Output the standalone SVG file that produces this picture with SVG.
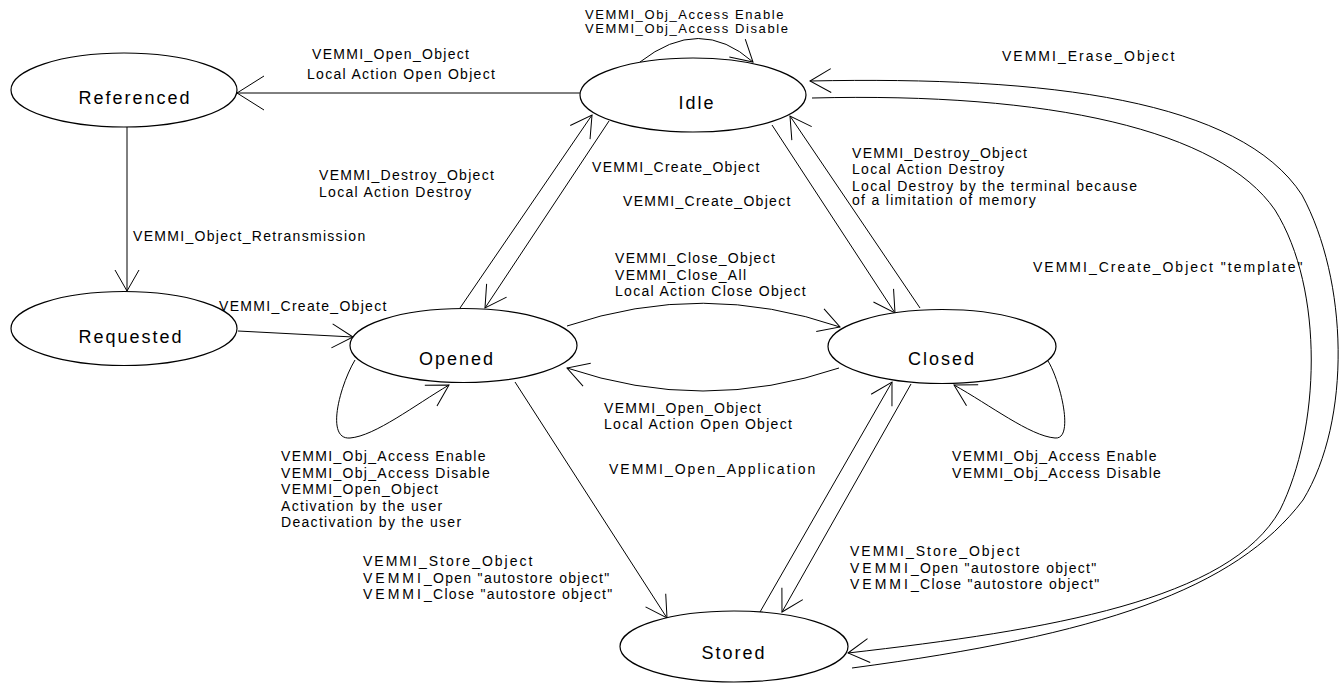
<svg xmlns="http://www.w3.org/2000/svg" width="1339" height="684" viewBox="0 0 1339 684">
<style>
.node ellipse{fill:#fff;stroke:#000;stroke-width:1.2}
.node text{font-family:"Liberation Sans",Arial,sans-serif;font-size:18px;letter-spacing:2px;fill:#000;text-anchor:middle}
.edge{fill:none;stroke:#000;stroke-width:1;marker-end:url(#arr)}
.lbl{font-family:"Liberation Sans",Arial,sans-serif;font-size:14px;letter-spacing:1.3px;fill:#000}
.sm{font-size:13px;letter-spacing:1.6px}
.wide{letter-spacing:2px}
.v{letter-spacing:3px}
</style>
<defs>
<marker id="arr" markerUnits="userSpaceOnUse" markerWidth="40" markerHeight="40" viewBox="-30 -20 40 40" refX="0" refY="0" orient="auto" overflow="visible">
<path d="M-21,-12 L0,0 L-21,12" fill="none" stroke="#000" stroke-width="1"/>
</marker>
<marker id="arrL" markerUnits="userSpaceOnUse" markerWidth="40" markerHeight="40" viewBox="-35 -20 40 40" refX="0" refY="0" orient="auto" overflow="visible">
<path d="M-27,-17 L0,0 L-27,17" fill="none" stroke="#000" stroke-width="1"/>
</marker>
</defs>
<rect width="1339" height="684" fill="#fff"/>
<g id="connectors">
<path class="edge" style="marker-end:url(#arrL)" d="M580,93 L237,93"/>
<path class="edge" d="M127,127 L127,291"/>
<path class="edge" d="M238,331 L353,337"/>
<path class="edge" d="M460,308 L592,115"/>
<path class="edge" d="M609,121 L485,308"/>
<path class="edge" d="M772,125 L895,313"/>
<path class="edge" d="M920,308 L790,116"/>
<path class="edge" d="M567,326 Q703,280 840,327"/>
<path class="edge" d="M839,368 Q703,414 567,368"/>
<path class="edge" d="M355,360 C340,385 325,440 350,438 C375,436 415,405 449,385"/>
<path class="edge" d="M1048,361 C1060,380 1075,440 1055,438 C1030,436 990,405 954,385"/>
<path class="edge" d="M640,62 Q700,15 753,62"/>
<path class="edge" d="M515,382 L667,618"/>
<path class="edge" d="M760,612 L892,382"/>
<path class="edge" d="M911,384 L782,612"/>
<path class="edge" d="M852,668 C1100,635 1235,590 1303,500 C1352,420 1348,280 1302,195 C1240,100 1050,76 810,81"/>
<path class="edge" d="M812,98 C1050,92 1220,130 1275,210 C1325,290 1320,430 1280,510 C1230,600 1050,630 848,653"/>
<g id="edge-labels" class="lbl">
<text class="lbl" x="312" y="59">VEMMI_Open_Object</text>
<text class="lbl" x="307" y="79">Local Action Open Object</text>
<text class="lbl sm" x="585" y="19">VEMMI_Obj_Access Enable</text>
<text class="lbl sm" x="585" y="33">VEMMI_Obj_Access Disable</text>
<text class="lbl wide" x="1002" y="61">VEMMI_Erase_Object</text>
<text class="lbl" x="852" y="158">VEMMI_Destroy_Object</text>
<text class="lbl" x="852" y="174">Local Action Destroy</text>
<text class="lbl" x="852" y="191">Local Destroy by the terminal because</text>
<text class="lbl" x="852" y="205">of a limitation of memory</text>
<text class="lbl wide" x="1033" y="272">VEMMI_Create_Object "template"</text>
<text class="lbl" x="319" y="180">VEMMI_Destroy_Object</text>
<text class="lbl" x="319" y="197">Local Action Destroy</text>
<text class="lbl" x="592" y="172">VEMMI_Create_Object</text>
<text class="lbl" x="623" y="206">VEMMI_Create_Object</text>
<text class="lbl" x="133" y="241">VEMMI_Object_Retransmission</text>
<text class="lbl" x="219" y="311">VEMMI_Create_Object</text>
<text class="lbl" x="615" y="263">VEMMI_Close_Object</text>
<text class="lbl" x="615" y="280">VEMMI_Close_All</text>
<text class="lbl" x="615" y="296">Local Action Close Object</text>
<text class="lbl" x="604" y="413">VEMMI_Open_Object</text>
<text class="lbl" x="604" y="429">Local Action Open Object</text>
<text class="lbl" x="281" y="461">VEMMI_Obj_Access Enable</text>
<text class="lbl" x="281" y="478">VEMMI_Obj_Access Disable</text>
<text class="lbl" x="281" y="494">VEMMI_Open_Object</text>
<text class="lbl" x="281" y="511">Activation by the user</text>
<text class="lbl" x="281" y="527">Deactivation by the user</text>
<text class="lbl wide" x="609" y="474">VEMMI_Open_Application</text>
<text class="lbl wide" x="363" y="566">VEMMI_Store_Object</text>
<text class="lbl" x="363" y="583"><tspan class="v">VEMMI</tspan>_Open "autostore object"</text>
<text class="lbl" x="363" y="599"><tspan class="v">VEMMI</tspan>_Close "autostore object"</text>
<text class="lbl" x="952" y="461">VEMMI_Obj_Access Enable</text>
<text class="lbl" x="952" y="478">VEMMI_Obj_Access Disable</text>
<text class="lbl wide" x="850" y="556">VEMMI_Store_Object</text>
<text class="lbl" x="850" y="573"><tspan class="v">VEMMI</tspan>_Open "autostore object"</text>
<text class="lbl" x="850" y="589"><tspan class="v">VEMMI</tspan>_Close "autostore object"</text>
</g>
</g>
<g id="referenced" class="node"><ellipse cx="124" cy="90" rx="113" ry="37"/><text x="135" y="104">Referenced</text></g>
<g id="idle" class="node"><ellipse cx="693" cy="95" rx="113" ry="37"/><text x="697" y="109">Idle</text></g>
<g id="requested" class="node"><ellipse cx="124" cy="328.5" rx="113" ry="37"/><text x="131" y="343">Requested</text></g>
<g id="opened" class="node"><ellipse cx="463.5" cy="345.5" rx="113.5" ry="37"/><text x="457" y="365">Opened</text></g>
<g id="closed" class="node"><ellipse cx="942" cy="346.5" rx="114" ry="37"/><text x="942" y="365">Closed</text></g>
<g id="stored" class="node"><ellipse cx="734" cy="646.5" rx="114" ry="35.5"/><text x="734" y="659">Stored</text></g>
</svg>
